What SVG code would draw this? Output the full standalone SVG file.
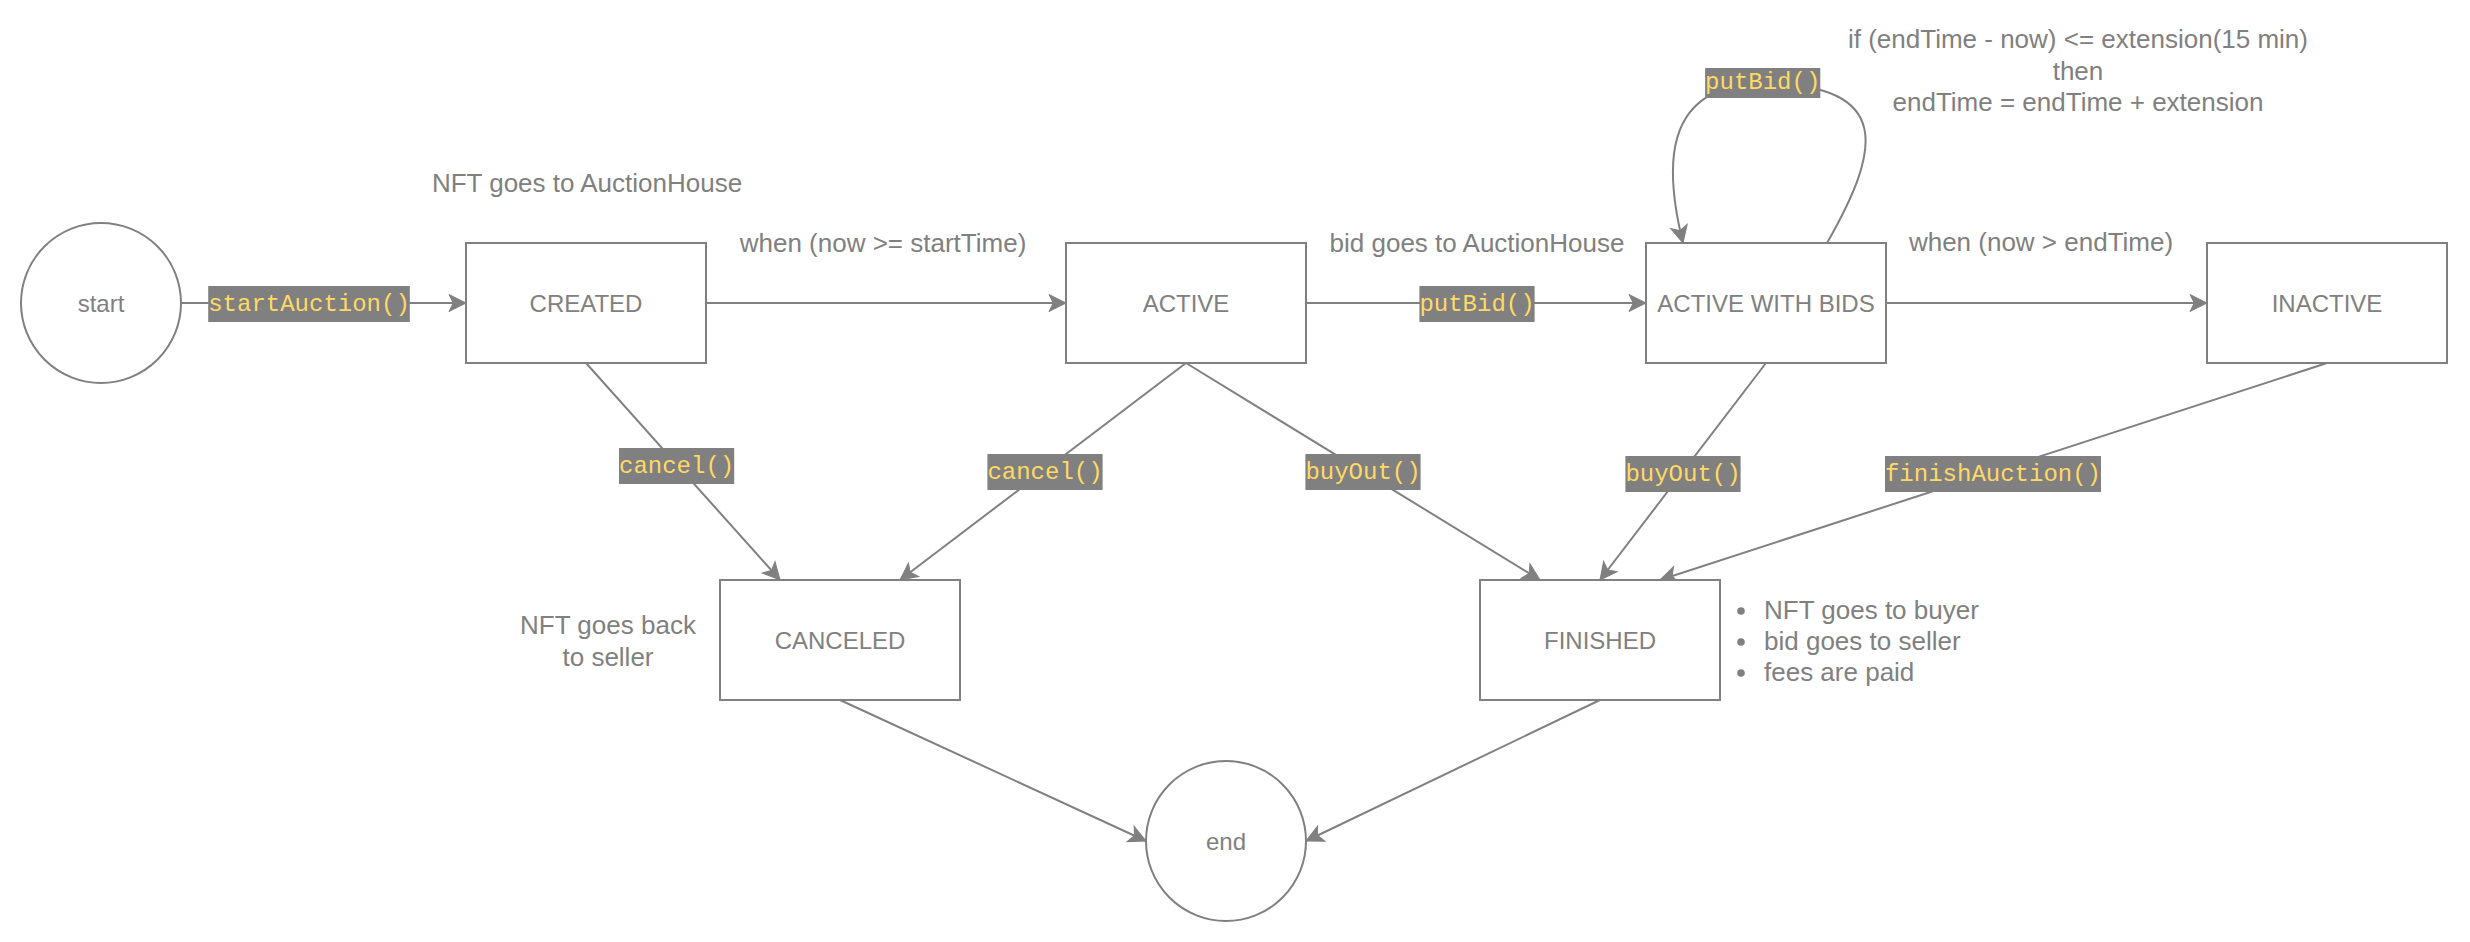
<svg xmlns="http://www.w3.org/2000/svg" width="2470" height="942" viewBox="0 0 2470 942">
<style>
.node{fill:#ffffff;stroke:#808080;stroke-width:2}
.lbl{font-family:"Liberation Sans",Arial,sans-serif;font-size:24px;fill:#808080;text-anchor:middle;dominant-baseline:central}
.note{font-family:"Liberation Sans",Arial,sans-serif;font-size:26px;fill:#808080;text-anchor:middle;dominant-baseline:central}
.noteL{font-family:"Liberation Sans",Arial,sans-serif;font-size:26px;fill:#808080;text-anchor:start;dominant-baseline:central}
.edge{fill:none;stroke:#808080;stroke-width:2;marker-end:url(#arr)}
.tagbg{fill:#808080}
.tag{font-family:"Liberation Mono","Courier New",monospace;font-size:24px;fill:#FFD966;text-anchor:middle;dominant-baseline:central}
</style>
<defs>
<marker id="arr" markerUnits="userSpaceOnUse" viewBox="-20 -10 22 20" refX="0" refY="0" markerWidth="22" markerHeight="20" orient="auto" overflow="visible">
<path d="M0,0 L-17,-8.5 L-12.75,0 L-17,8.5 Z" fill="#808080" stroke="#808080" stroke-width="1"/>
</marker>
</defs>

<g id="connectors">
<path class="edge" d="M181,303 L466,303"/>
<path class="edge" d="M706,303 L1066,303"/>
<path class="edge" d="M1306,303 L1646,303"/>
<path class="edge" d="M1886,303 L2207,303"/>
<path class="edge" d="M586,363 L780,580"/>
<path class="edge" d="M1186,363 L900,580"/>
<path class="edge" d="M1186,363 L1540,580"/>
<path class="edge" d="M1766,363 L1600,580"/>
<path class="edge" d="M2327,363 L1660,580"/>
<path class="edge" d="M840,700 L1146,841"/>
<path class="edge" d="M1600,700 L1306,841"/>
<path class="edge" d="M1827,243 C1880,150 1895,85 1763,83 C1660,85 1665,170 1683,243"/>
<g id="edge-labels">
<rect class="tagbg" x="208.2" y="286" width="201.6" height="36"/>
<text class="tag" x="309" y="304">startAuction()</text>
<rect class="tagbg" x="1419.4" y="286" width="115.2" height="36"/>
<text class="tag" x="1477" y="304">putBid()</text>
<rect class="tagbg" x="1705.1" y="68" width="115.2" height="30"/>
<text class="tag" x="1762.7" y="82">putBid()</text>
<rect class="tagbg" x="619" y="448" width="115.2" height="36"/>
<text class="tag" x="676.6" y="466">cancel()</text>
<rect class="tagbg" x="987.4" y="454" width="115.2" height="36"/>
<text class="tag" x="1045" y="472">cancel()</text>
<rect class="tagbg" x="1305.4" y="454" width="115.2" height="36"/>
<text class="tag" x="1363" y="472">buyOut()</text>
<rect class="tagbg" x="1625.4" y="456" width="115.2" height="36"/>
<text class="tag" x="1683" y="474">buyOut()</text>
<rect class="tagbg" x="1885" y="456" width="216" height="36"/>
<text class="tag" x="1993" y="474">finishAuction()</text>
</g>
</g>

<g id="start">
<circle class="node" cx="101" cy="303" r="80"/>
<text class="lbl" x="101" y="303">start</text>
</g>
<g id="created">
<rect class="node" x="466" y="243" width="240" height="120"/>
<text class="lbl" x="586" y="303">CREATED</text>
</g>
<g id="active">
<rect class="node" x="1066" y="243" width="240" height="120"/>
<text class="lbl" x="1186" y="303">ACTIVE</text>
</g>
<g id="active-with-bids">
<rect class="node" x="1646" y="243" width="240" height="120"/>
<text class="lbl" x="1766" y="303">ACTIVE WITH BIDS</text>
</g>
<g id="inactive">
<rect class="node" x="2207" y="243" width="240" height="120"/>
<text class="lbl" x="2327" y="303">INACTIVE</text>
</g>
<g id="canceled">
<rect class="node" x="720" y="580" width="240" height="120"/>
<text class="lbl" x="840" y="640">CANCELED</text>
</g>
<g id="finished">
<rect class="node" x="1480" y="580" width="240" height="120"/>
<text class="lbl" x="1600" y="640">FINISHED</text>
</g>
<g id="end">
<circle class="node" cx="1226" cy="841" r="80"/>
<text class="lbl" x="1226" y="841">end</text>
</g>

<g id="notes">
<text class="note" x="587" y="183">NFT goes to AuctionHouse</text>
<text class="note" x="883" y="243">when (now &gt;= startTime)</text>
<text class="note" x="1477" y="243">bid goes to AuctionHouse</text>
<text class="note" x="2041" y="242">when (now &gt; endTime)</text>
<text class="note" x="2078" y="39">if (endTime - now) &lt;= extension(15 min)</text>
<text class="note" x="2078" y="71">then</text>
<text class="note" x="2078" y="102">endTime = endTime + extension</text>
<text class="note" x="608" y="625">NFT goes back</text>
<text class="note" x="608" y="657">to seller</text>
<circle cx="1741" cy="611" r="3.8" fill="#808080"/>
<circle cx="1741" cy="642" r="3.8" fill="#808080"/>
<circle cx="1741" cy="673" r="3.8" fill="#808080"/>
<text class="noteL" x="1764" y="610">NFT goes to buyer</text>
<text class="noteL" x="1764" y="641">bid goes to seller</text>
<text class="noteL" x="1764" y="672">fees are paid</text>
</g>
</svg>
